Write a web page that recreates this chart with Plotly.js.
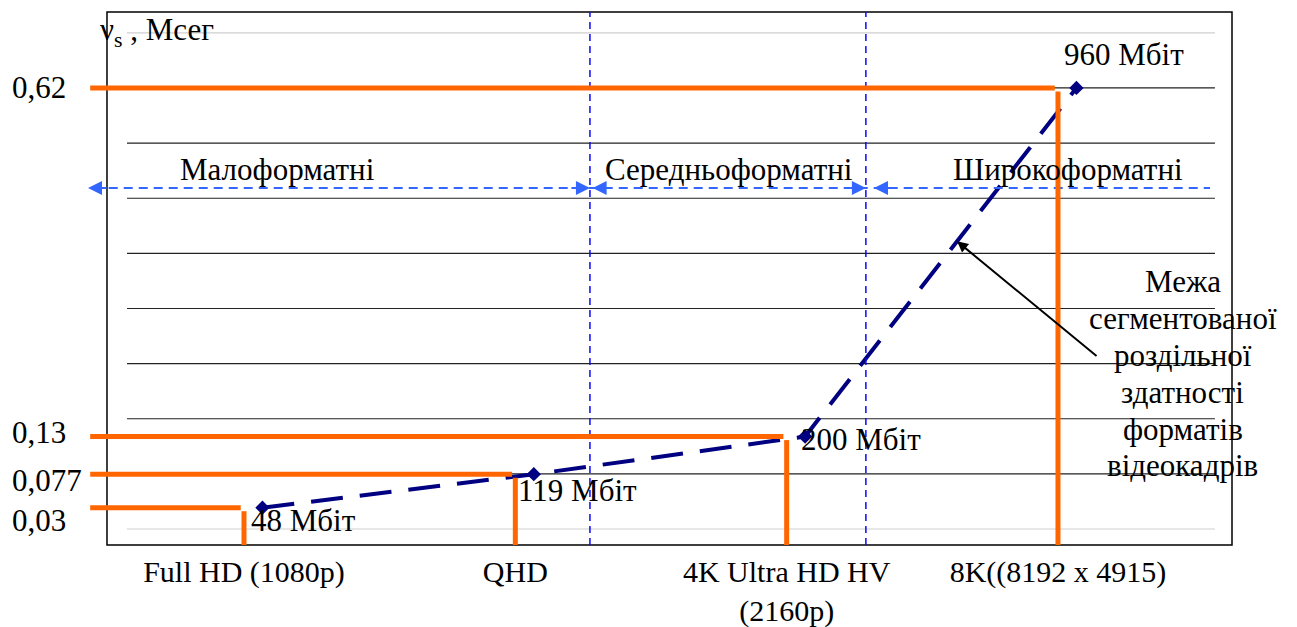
<!DOCTYPE html>
<html>
<head>
<meta charset="utf-8">
<script src="https://cdn.plot.ly/plotly-3.0.1.min.js"></script>
<style>html,body{margin:0;padding:0;background:#fff;}#chart{width:1297px;height:627px;}</style>
</head>
<body>
<div id="chart"></div>
<script>
// ---- data ----
const categories = ['Full HD (1080p)', 'QHD', '4K Ultra HD HV<br>(2160p)', '8K((8192 x 4915)'];
const catPos = [1, 2, 3, 4];
const rates = [0.03, 0.077, 0.13, 0.62];          // ν_s, Мсег
const rateLabels = ['0,03', '0,077', '0,13', '0,62'];
const bitrates = [48, 119, 200, 960];              // Мбіт
const groupNames = ['Малоформатні', 'Середньоформатні', 'Широкоформатні'];
const groupBounds = [2.275, 3.292];                // boundaries between format groups (x units)
const boundaryLines = ['Межа', 'сегментованої', 'роздільної', 'здатності', 'форматів', 'відеокадрів'];

// ---- layout helpers ----
const FONT = '"Liberation Serif", "Times New Roman", serif';
const FS = 31;
const TFS = 30;
const xRange = [0.4251, 4.6413];
const yRange = [-0.0225, 0.7268];
const pointShift = 0.068;
const gridStep = rates[3] / 8;
const ORANGE = '#ff6600';
const NAVY = '#000080';

const pointX = catPos.map(v => v + pointShift);

const shapes = [];
// gridlines
for (let k = 0; k <= 9; k++) {
  shapes.push({type: 'line', xref: 'paper', yref: 'y', x0: 0.0341, x1: 0.9851,
    y0: k * gridStep, y1: k * gridStep,
    line: {color: (k === 0 || k === 9) ? '#cfcfcf' : '#222', width: 1.2}, layer: 'below'});
}
// frame
shapes.push({type: 'rect', xref: 'paper', yref: 'paper', x0: 0.0166, x1: 1.0, y0: 0, y1: 1,
  line: {color: '#000', width: 1.5}, layer: 'below'});
// group boundaries
groupBounds.forEach(b => shapes.push({type: 'line', xref: 'x', yref: 'paper', x0: b, x1: b, y0: 0, y1: 1,
  line: {color: '#0a0aff', width: 1.5, dash: '7px,5px'}}));
// horizontal dashed arrow line
shapes.push({type: 'line', xref: 'paper', yref: 'paper', x0: 0.005, x1: 0.9808, y0: 0.6698, y1: 0.6698,
  line: {color: '#3366ff', width: 2, dash: '9px,6px'}});
// orange guide lines
catPos.forEach((c, i) => {
  shapes.push({type: 'line', xref: 'x', yref: 'y', x0: xRange[0] + 0.008, x1: c - 0.012, y0: rates[i], y1: rates[i],
    line: {color: ORANGE, width: 5}});
  shapes.push({type: 'line', xref: 'x', yref: 'y', x0: c, x1: c, y0: rates[i] - 0.005, y1: yRange[0],
    line: {color: ORANGE, width: 5}});
});

const annotations = [];
// y value labels
const yShifts = [-13, -6, 4, 0];
rates.forEach((r, i) => annotations.push({xref: 'paper', yref: 'y', x: -0.0682, y: r, xanchor: 'left', yanchor: 'middle',
  text: rateLabels[i], showarrow: false, yshift: yShifts[i], font: {size: FS}}));
// y title
annotations.push({xref: 'paper', yref: 'paper', x: 0.0087, y: 0.9625, xanchor: 'left', yanchor: 'middle',
  text: 'ν<sub>s</sub> , Мсег', showarrow: false, font: {size: FS}});
// bitrate labels
const lblShift = [[-13, -13], [-18, -16], [-6, -3], [-14, 33]];
bitrates.forEach((b, i) => annotations.push({xref: 'x', yref: 'y', x: pointX[i], y: rates[i], xanchor: 'left', yanchor: 'middle',
  text: b + ' Мбіт', showarrow: false, xshift: lblShift[i][0], yshift: lblShift[i][1], font: {size: FS}}));
// group labels
const groupX = [1.125, 2.787, 4.037];
groupNames.forEach((g, i) => annotations.push({xref: 'x', yref: 'paper', x: groupX[i], y: 0.7036, xanchor: 'center', yanchor: 'middle',
  text: g, showarrow: false, font: {size: FS}}));
// group arrowheads
const arrowY = 0.6698;
const heads = [
  {xref: 'paper', x: 0.0, ax: 20},
  {xref: 'x', x: groupBounds[0], ax: -20},
  {xref: 'x', x: groupBounds[0] + 0.01, ax: 20},
  {xref: 'x', x: groupBounds[1], ax: -20},
  {xref: 'x', x: groupBounds[1] + 0.03, ax: 20}
];
heads.forEach(h => annotations.push({xref: h.xref, yref: 'paper', x: h.x, y: arrowY, ax: h.ax, ay: 0, text: '',
  showarrow: true, arrowhead: 2, arrowsize: 1.4, arrowwidth: 2, arrowcolor: '#3366ff'}));
// boundary note (one annotation per line, 37px line pitch)
boundaryLines.forEach((s, i) => annotations.push({xref: 'paper', yref: 'paper', x: 0.957, y: 0.321, xanchor: 'center', yanchor: 'middle',
  yshift: -(i - (boundaryLines.length - 1) / 2) * 36.8, text: s, showarrow: false, font: {size: FS}}));
const t = 0.56;
annotations.push({xref: 'x', yref: 'y',
  x: pointX[2] + t * (pointX[3] - pointX[2]), y: rates[2] + t * (rates[3] - rates[2]),
  ax: 141, ay: 116, text: '', showarrow: true, arrowhead: 2, arrowsize: 1.1, arrowwidth: 2, arrowcolor: '#000'});

const traces = [{
  type: 'scatter', mode: 'lines+markers', x: pointX, y: rates,
  line: {color: NAVY, width: 4, dash: '32px,17px'},
  marker: {symbol: 'diamond', size: 11, color: NAVY},
  hoverinfo: 'skip', cliponaxis: false
}];

const layout = {
  width: 1297, height: 627,
  margin: {l: 88, r: 65, t: 12, b: 82, pad: 0},
  paper_bgcolor: '#fff', plot_bgcolor: 'rgba(0,0,0,0)',
  font: {family: FONT, size: FS, color: '#000'},
  showlegend: false,
  xaxis: {range: xRange, tickvals: catPos, ticktext: categories, showgrid: false, zeroline: false,
    showline: false, ticks: '', tickfont: {size: TFS}, ticklabelstandoff: 6, fixedrange: true},
  yaxis: {range: yRange, showgrid: false, zeroline: false, showline: false, showticklabels: false, ticks: '', fixedrange: true},
  shapes: shapes,
  annotations: annotations
};

Plotly.newPlot('chart', traces, layout, {displayModeBar: false, staticPlot: true});
</script>
</body>
</html>
